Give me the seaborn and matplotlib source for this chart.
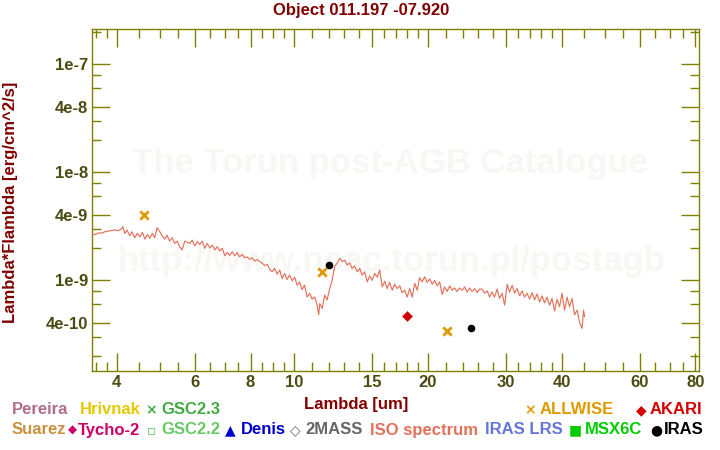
import matplotlib
matplotlib.use("Agg")
import matplotlib.pyplot as plt
import seaborn as sns
import numpy as np

# ISO spectrum (wavelength in um, flux in units of 1e-9 erg/cm^2/s)
iso_wave = [
    3.53, 3.57, 3.61, 3.66, 3.71, 3.76, 3.81, 3.86, 3.91, 3.96,
    4.01, 4.06, 4.11, 4.13, 4.17, 4.22, 4.28, 4.33, 4.39, 4.45,
    4.51, 4.57, 4.63, 4.69, 4.75, 4.81, 4.87, 4.93, 5.00, 5.06,
    5.13, 5.19, 5.26, 5.33, 5.40, 5.47, 5.54, 5.61, 5.69, 5.76,
    5.84, 5.91, 5.99, 6.07, 6.15, 6.23, 6.31, 6.39, 6.48, 6.56,
    6.65, 6.73, 6.82, 6.91, 7.00, 7.09, 7.18, 7.27, 7.37, 7.46,
    7.56, 7.66, 7.76, 7.86, 7.96, 8.06, 8.17, 8.28, 8.39, 8.50,
    8.61, 8.72, 8.83, 8.94, 9.06, 9.18, 9.30, 9.42,
    9.54, 9.66, 9.79, 9.92, 10.05, 10.18, 10.31, 10.44, 10.58, 10.72,
    10.86, 11.00, 11.15, 11.29, 11.38, 11.44, 11.59, 11.74, 11.89, 12.05,
    12.20, 12.36, 12.52, 12.69, 12.85, 13.02, 13.19, 13.36, 13.53, 13.71,
    13.89, 14.07, 14.25, 14.44, 14.63, 14.82, 15.01, 15.21, 15.41,
    15.61, 15.81, 16.02, 16.22, 16.43, 16.65, 16.87, 17.09, 17.31, 17.53,
    17.76, 17.99, 18.23, 18.47, 18.71, 18.95, 19.19, 19.44, 19.70, 19.95,
    20.21, 20.48, 20.75, 21.02, 21.29, 21.56, 21.84, 22.13, 22.42, 22.71,
    23.00, 23.30, 23.61, 23.92, 24.23, 24.54, 24.86, 25.18, 25.51, 25.84,
    26.18,
    26.52, 26.87, 27.22, 27.57, 27.93, 28.29, 28.66, 29.03, 29.41, 29.80,
    30.19, 30.58, 30.98, 31.38, 31.79, 32.20, 32.62, 33.04, 33.47, 33.91,
    34.35, 34.80, 35.25, 35.71, 36.17, 36.64, 37.12, 37.60, 38.09, 38.59,
    39.09, 39.60, 40.12, 40.64, 41.17, 41.70, 42.24, 42.80, 43.36, 43.92,
    44.49, 44.84, 45.08,
]
iso_flux_e9 = [
    2.62, 2.66, 2.70, 2.76, 2.74, 2.82, 2.84, 2.88, 2.90, 2.94,
    2.88, 2.92, 3.03, 3.14, 2.72, 2.92, 2.59, 2.82, 2.48, 2.72,
    2.53, 2.78, 2.41, 2.66, 2.45, 2.72, 2.48, 3.07, 2.82, 2.59,
    2.41, 2.62, 2.31, 2.48, 2.20, 2.31, 2.05, 1.91, 2.31, 2.25,
    2.20, 2.36, 2.09, 2.28, 2.15, 2.31, 1.98, 2.20, 2.00, 2.12,
    1.91, 2.05, 1.87, 1.98, 1.69, 1.81, 1.71, 1.84, 1.69, 1.81,
    1.65, 1.74, 1.62, 1.65, 1.57, 1.62, 1.51, 1.56, 1.49, 1.44,
    1.37, 1.41, 1.27, 1.20, 1.29, 1.14, 1.25, 1.04,
    1.16, 1.02, 1.12, 0.99, 1.07, 0.90, 0.97, 0.82, 0.90, 0.70,
    0.76, 0.67, 0.70, 0.59, 0.48, 0.61, 0.55, 0.73, 0.66, 0.84,
    1.00, 1.34, 1.44, 1.60, 1.49, 1.54, 1.39, 1.45, 1.29, 1.36,
    1.20, 1.29, 1.12, 1.20, 0.97, 1.10, 1.00, 1.16, 1.07,
    1.25, 0.87, 0.98, 0.84, 0.96, 0.81, 0.92, 0.84, 0.89, 0.77,
    0.81, 0.70, 0.84, 0.70, 0.94, 0.81, 1.06, 0.97, 1.08, 0.96,
    1.03, 0.92, 1.00, 0.89, 0.97, 0.74, 0.87, 0.79, 0.89, 0.81,
    0.85, 0.79, 0.85, 0.81, 0.87, 0.78, 0.85, 0.79, 0.84, 0.77,
    0.83,
    0.83, 0.76, 0.80, 0.70, 0.78, 0.70, 0.83, 0.68, 0.76, 0.59,
    0.92, 0.78, 0.90, 0.76, 0.84, 0.72, 0.80, 0.70, 0.76, 0.67,
    0.77, 0.66, 0.75, 0.63, 0.72, 0.62, 0.70, 0.59, 0.68, 0.52,
    0.67, 0.57, 0.76, 0.53, 0.70, 0.57, 0.68, 0.48, 0.53, 0.41,
    0.36, 0.53, 0.46,
]

# photometry
allwise_wave = [4.6, 11.6, 22.1]
allwise_flux = [4.0e-9, 1.19e-9, 3.4e-10]
iras_wave = [12.0, 25.0]
iras_flux = [1.39e-9, 3.6e-10]
akari_wave = [18.0]
akari_flux = [4.65e-10]

# axes ticks
x_major = [4, 6, 8, 10, 15, 20, 30, 40, 60, 80]
x_minor = [3.6, 3.8, 4.5, 5, 5.5, 6.5, 7, 7.5, 8.5, 9, 9.5, 11, 12, 13, 14,
           16, 17, 18, 19, 22, 24, 26, 28, 32, 34, 36, 38, 45, 50, 55, 65, 70, 75]
y_major = [4e-10, 1e-9, 4e-9, 1e-8, 4e-8, 1e-7]
y_labels = ['4e-10', '1e-9', '4e-9', '1e-8', '4e-8', '1e-7']
y_minor = [2e-10, 3e-10, 6e-10, 8e-10, 2e-9, 3e-9, 6e-9, 8e-9,
           2e-8, 3e-8, 6e-8, 8e-8, 2e-7]

# colours
olive = '#808000'
tick_txt = '#4b4b12'
dark_red = '#800000'
iso_col = '#e2725b'
allwise_col = '#df9a00'

sns.set_theme(style="white")
plt.rcParams['font.family'] = ['Liberation Sans', 'DejaVu Sans']
plt.rcParams['font.weight'] = 'bold'

W, H = 720, 450
fig = plt.figure(figsize=(7.2, 4.5), dpi=100)
ax = fig.add_axes([92 / W, 1 - 371 / H, (699 - 92) / W, (371 - 29) / H])
ax.set_xscale('log')
ax.set_yscale('log')

iso_flux = np.array(iso_flux_e9) * 1e-9
sns.lineplot(x=iso_wave, y=iso_flux, ax=ax, color=iso_col, linewidth=0.85,
             sort=False, estimator=None, zorder=3)
sns.scatterplot(x=allwise_wave, y=allwise_flux, ax=ax, marker='x', color=allwise_col,
                s=36, linewidth=2, zorder=4)
sns.scatterplot(x=iras_wave, y=iras_flux, ax=ax, marker='o', color='black',
                s=30, linewidth=0, zorder=4)
sns.scatterplot(x=akari_wave, y=akari_flux, ax=ax, marker='D', color='#d00000',
                s=30, linewidth=0, zorder=4)

ax.set_xlim(3.52, 81.5)
ax.set_ylim(1.45e-10, 2.12e-7)

ax.set_xticks(x_major)
ax.set_xticklabels([str(v) for v in x_major])
ax.set_xticks(x_minor, minor=True)
ax.set_xticklabels([], minor=True)
ax.set_yticks(y_major)
ax.set_yticklabels(y_labels)
ax.set_yticks(y_minor, minor=True)
ax.set_yticklabels([], minor=True)

ax.tick_params(which='both', direction='in', top=True, right=True, bottom=True, left=True,
               color=olive, width=1, labelcolor=tick_txt, labelsize=12)
ax.tick_params(which='major', length=13)
ax.tick_params(which='minor', length=6.5)
ax.tick_params(axis='y', pad=3)
ax.tick_params(axis='x', pad=3)
for lab in ax.get_xticklabels() + ax.get_yticklabels():
    lab.set_fontweight('bold')
for sp in ax.spines.values():
    sp.set_color(olive)
    sp.set_linewidth(1)
ax.grid(False)

# watermark
wm = '#f8f7f4'
ax.text(0.491, 0.608, 'The Torun post-AGB Catalogue', transform=ax.transAxes,
        ha='center', va='center', fontsize=25, fontweight='bold', color=wm, zorder=0)
ax.text(0.4926, 0.319, 'http://www.ncac.torun.pl/postagb', transform=ax.transAxes,
        ha='center', va='center', fontsize=25, fontweight='bold', color=wm, zorder=0)

# titles
fig.text(361 / W, 1 - 11 / H, 'Object 011.197 -07.920', ha='center', va='center',
         fontsize=12, fontweight='bold', color=dark_red)
fig.text(356 / W, 1 - 405 / H, 'Lambda [um]', ha='center', va='center',
         fontsize=12, fontweight='bold', color=dark_red)
fig.text(10.5 / W, 1 - 202 / H, 'Lambda*Flambda [erg/cm^2/s]', ha='center', va='center',
         rotation=90, fontsize=12, fontweight='bold', color=dark_red)

# legend made of coloured labels
legend_items = [
    # (symbol x, y, symbol, symbol colour, text, text colour, text x)
    (12, 410, None, None, 'Pereira', '#b06e8c', 12),
    (80, 410, None, None, 'Hrivnak', '#e6c800', 80),
    (151, 410, '\u00d7', '#44aa44', 'GSC2.3', '#44aa44', 161),
    (530, 410, '\u00d7', allwise_col, 'ALLWISE', allwise_col, 540),
    (641, 410, '\u25c6', '#d40000', 'AKARI', '#d40000', 650),
    (12, 430, None, None, 'Suarez', '#c89040', 12),
    (72, 430, '\u25c6', '#cc0066', 'Tycho-2', '#cc0066', 78),
    (151, 430, '\u25ab', '#66c866', 'GSC2.2', '#66c866', 161),
    (230, 430, '\u25b2', '#0000cc', 'Denis', '#0000cc', 241),
    (295, 430, '\u25c7', '#666666', '2MASS', '#666666', 305),
    (370, 430, None, None, 'ISO spectrum', iso_col, 370),
    (485, 430, None, None, 'IRAS LRS', '#6675d6', 485),
    (575, 430, '\u25a0', '#00cc00', 'MSX6C', '#00cc00', 585),
    (656, 430, '\u25cf', 'black', 'IRAS', 'black', 664),
]
for sx, sy, sym, scol, txt, tcol, tx in legend_items:
    if sym is not None:
        fs = 8.5 if txt == 'Tycho-2' else 10
        fig.text(sx / W, 1 - sy / H, sym, ha='center', va='center', fontsize=fs,
                 fontweight='bold', color=scol, family=['DejaVu Sans'])
    fig.text(tx / W, 1 - sy / H, txt, ha='left', va='center', fontsize=12,
             fontweight='bold', color=tcol)

fig.savefig('out.png', dpi=100)
